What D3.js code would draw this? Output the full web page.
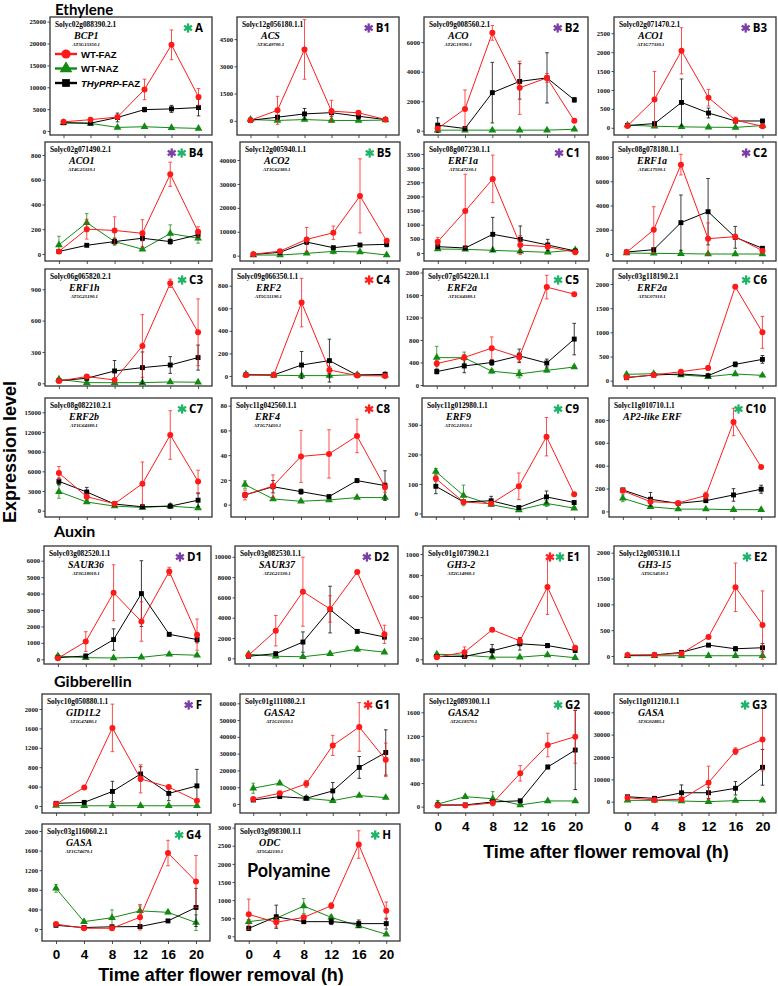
<!DOCTYPE html>
<html><head><meta charset="utf-8">
<script src="https://cdn.jsdelivr.net/npm/d3@7"></script>
<style>body{margin:0;background:#fff} svg{display:block}</style>
</head><body>
<svg id="chart" width="778" height="986"></svg>
<script>
const times = [0, 4, 8, 12, 16, 20];
const seriesNames = ["WT-FAZ", "WT-NAZ", "THyPRP-FAZ"];
const panelIds = ["A","B1","B2","B3","B4","B5","C1","C2","C3","C4","C5","C6","C7","C8","C9","C10","D1","D2","E1","E2","F","G1","G2","G3","G4","H"];
const geneIds = ["Solyc02g088390.2.1","Solyc12g056180.1.1","Solyc09g008560.2.1","Solyc02g071470.2.1","Solyc02g071490.2.1","Solyc12g005940.1.1","Solyc08g007230.1.1","Solyc08g078180.1.1","Solyc06g065820.2.1","Solyc09g066350.1.1","Solyc07g054220.1.1","Solyc03g118190.2.1","Solyc08g082210.2.1","Solyc11g042560.1.1","Solyc11g012980.1.1","Solyc11g010710.1.1","Solyc03g082520.1.1","Solyc03g082530.1.1","Solyc01g107390.2.1","Solyc12g005310.1.1","Solyc10g050880.1.1","Solyc01g111080.2.1","Solyc12g089300.1.1","Solyc11g011210.1.1","Solyc03g116060.2.1","Solyc03g098300.1.1"];
const geneNames = ["BCP1","ACS","ACO","ACO1","ACO1","ACO2","ERF1a","ERF1a","ERF1h","ERF2","ERF2a","ERF2a","ERF2b","ERF4","ERF9","AP2-like ERF","SAUR36","SAUR37","GH3-2","GH3-15","GID1L2","GASA2","GASA2","GASA","GASA","ODC"];
const atCodes = ["AT5G15350.1","AT3G49700.1","AT2G19590.1","AT1G77330.1","AT4G25310.1","AT1G62380.1","AT5G47230.1","AT4G17500.1","AT5G25190.1","AT5G51190.1","AT1G64380.1","AT5G07310.1","AT1G64380.1","AT1G71450.1","AT1G21910.1","","AT3G18010.1","AT2G21530.1","AT2G14960.1","AT5G54510.1","AT1G47480.1","AT1G10150.1","AT2G18570.1","AT3G02885.1","AT1G74670.1","AT5G42130.1"];
// significance stars: r = red, g = green, p = purple
const starKinds = ["g","p","p","p","pg","g","p","p","g","r","g","g","g","r","g","g","p","p","rg","g","p","r","g","g","g","g"];
const sectionTitles = ["Ethylene","Auxin","Gibberellin","Polyamine"];

const wtFAZ = [
 [2100,2600,3200,9500,19700,7800],[30,580,3930,530,440,70],[150,1480,6630,2910,3580,670],[50,750,2035,795,200,40],
 [20,200,190,167,644,180],[600,1900,6800,9600,25000,6200],[400,1485,2620,283,224,24],[140,2000,7370,1265,1430,275],
 [22,64,32,357,957,488],[9,9,650,53,3,0],[382,490,655,495,1740,1615],[70,117,186,262,1945,1000],
 [5745,2140,1070,4120,11540,4470],[7.8,15,39,41,55.5,14],[118,39,33,92,260,65],[180,85,74,138,782,388],
 [60,1080,4050,2300,5350,1500],[300,2720,6560,4860,8500,2360],[20,67,280,175,686,110],[20,20,50,370,1330,600],
 [40,380,1610,560,390,110],[3000,6400,12000,34900,45900,26300],[20,20,63,565,1046,1187],[1800,760,1070,8500,22600,27800],
 [100,15,15,240,1550,970],[606,385,523,844,2535,707]];
const wtFAZErr = [
 [300,300,300,2350,3400,1900],[30,770,1640,600,100,60],[100,1280,500,1800,300,100],[20,740,610,220,80,20],
 [10,80,110,110,98,40],[300,500,5000,2800,15500,700],[150,1300,840,330,80,20],[50,1900,850,1300,200,80],
 [10,20,15,300,40,320],[5,5,215,30,3,3],[50,50,200,80,210,30],[20,20,30,50,20,330],
 [1000,400,200,3300,3700,1700],[4,9,21,19.5,13.5,4],[10,5,5,45,65,5],[15,10,5,30,120,10],
 [100,600,1700,1200,250,950],[200,1500,3400,1300,150,900],[10,50,10,30,260,15],[10,10,10,30,470,660],
 [20,30,490,290,30,20],[1000,800,2000,6000,14500,10000],[10,10,20,130,200,450],[500,300,500,7400,1500,14000],
 [30,10,10,260,260,530],[420,130,60,80,380,240]];
const wtNAZ = [
 [1900,1740,830,980,760,600],[70,20,70,20,20,40],[40,40,40,40,40,100],[70,40,25,15,10,60],
 [73,253,100,38,165,127],[280,280,975,1800,1530,280],[140,130,94,60,24,106],[80,55,30,0,0,0],
 [38,6,6,6,13,10],[15,6,3,3,12,6],[487,485,245,197,260,320],[131,145,117,83,138,110],
 [2900,1320,700,500,700,400],[16.2,4.6,2.7,3.8,5.7,5.7],[142,61,30,12,34,18],[115,40,20,20,15,15],
 [200,100,80,120,300,250],[400,200,150,450,900,600],[48,38,20,20,40,15],[5,5,5,5,5,5],
 [10,5,5,5,5,5],[9400,12400,3400,2000,5000,3800],[45,170,135,30,97,97],[600,600,300,0,500,600],
 [830,150,230,370,340,130],[404,500,835,523,285,55]];
const wtNAZErr = [
 [200,200,200,200,100,100],[20,10,10,10,10,10],[10,10,10,10,10,20],[20,10,10,5,5,10],
 [70,73,30,10,70,40],[200,200,300,1000,300,100],[30,20,20,10,10,20],[20,20,10,5,5,5],
 [10,3,3,3,3,3],[5,3,15,20,3,3],[200,100,30,70,30,20],[20,20,15,15,15,10],
 [1000,200,100,100,100,100],[3,1,0.5,0.5,0.8,1],[10,35,5,3,10,3],[30,10,5,5,5,5],
 [100,30,30,30,50,50],[200,50,50,50,200,100],[10,10,5,5,10,5],[5,5,5,5,5,5],
 [5,5,5,5,5,5],[3000,500,500,500,500,500],[60,20,120,10,15,15],[300,300,300,300,300,300],
 [80,30,160,100,30,160],[60,60,210,60,40,20]];
const hyFAZ = [
 [1890,1800,3100,4900,5060,5360],[30,200,380,450,250,70],[380,150,2580,3340,3580,2090],[60,110,670,390,180,180],
 [20,70,100,127,100,155],[560,1390,5700,3340,4460,4740],[224,177,660,484,283,70],[165,357,2585,3490,1375,470],
 [25,48,118,150,175,246],[9,9,97,136,6,15],[238,338,400,518,390,816],[62,117,138,103,338,441],
 [4475,2850,1015,600,700,1600],[7.8,14.5,10.5,6.5,19.4,15.4],[92,39,43,20,56,37],[188,106,70,94,144,194],
 [100,200,1200,4000,1520,1200],[200,460,1600,4800,2650,2100],[27,27,80,147,130,85],[10,20,70,210,140,160],
 [55,75,300,660,260,415],[2400,4400,3400,7800,21800,30700],[30,30,80,100,673,960],[2200,1500,4000,4000,6000,15400],
 [75,30,45,50,165,440],[220,540,404,404,350,350]];
const hyFAZErr = [
 [300,300,1000,500,800,1900],[20,60,300,200,150,30],[500,50,2050,1200,1700,150],[20,30,620,130,50,30],
 [10,10,20,20,20,20],[200,300,1000,600,600,1000],[50,50,600,470,200,20],[50,80,2280,2740,900,80],
 [10,10,100,150,80,120],[3,3,120,190,3,5],[40,120,50,120,70,280],[15,20,20,15,50,80],
 [500,700,200,200,300,1000],[2,5,2,1,1.5,12],[25,5,15,5,20,5],[10,60,5,10,55,35],
 [50,100,650,2000,100,200],[100,100,1000,2300,150,200],[5,10,60,60,20,20],[5,5,20,20,40,80],
 [20,20,210,150,150,340],[500,800,600,5000,6500,13500],[10,10,20,20,30,670],[500,500,3500,2500,3000,8000],
 [10,10,10,10,20,390],[60,320,50,80,100,150]];
// y axis tick labels (max and step per panel)
const yTickMax = [25000,4500,6000,2500,800,40000,3500,8000,900,800,2000,2000,15000,80,300,800,6000,10000,1000,2000,2000,60000,1600,40000,2000,3000];
const yTickStep = [5000,1500,2000,500,200,10000,500,2000,300,200,400,500,3000,20,100,200,1000,2000,200,500,400,10000,400,10000,400,500];
const yDomains = [[-906,26060],[-781,5718],[-289,7703],[-191,2929],[-57,905],[-2215,47530],[-283,3924],[-577,9237],
 [-26,1094],[-89,948],[-18,2062],[-110,2311],[-960,17180],[-10,86.2],[-12,391],[-49,992],
 [-286,6896],[-562,11064],[-45,1076],[-155,2130],[-144,2309],[-5363,65540],[-107,1910],[-5056,48188],[-245,2143],[-130,3102]];

// ---- layout ----
const rowTop = [17,142,269,398,546,694,824];
const rowBottom = [135,261,386,517,664,813,941];
const panelRow = [0,0,0,0,1,1,1,1,2,2,2,2,3,3,3,3,4,4,4,4,5,5,5,5,6,6];
const boxLeft = [50,237,424,614,45,240,424,613,45,232,423,613,45,231,422,609,44,235,423,614,42,240,424,614,42,235];
const boxRight = [212,399,588,776,212,400,589,776,212,399,588,776,212,399,588,775,211,398,589,776,211,399,589,776,210,400];
const xLabelPanels = ["G2","G3","G4","H"];

const RED = "#ff1a1a", GREEN = "#138a13", BLACK = "#000";
const STAR = {r:"#ff2020", g:"#1fb46a", p:"#7a3ea6"};
const serif = "'Liberation Serif','Times New Roman',serif";
const sans = "'Liberation Sans',Arial,sans-serif";
const titleFont = "Lato,'Open Sans',sans-serif";

const svg = d3.select("#chart");

function drawAsterisk(g, cx, cy, color) {
  const r = 4.6;
  [90, 30, 150].forEach(a => {
    const rad = a * Math.PI / 180;
    g.append("line")
      .attr("x1", cx - r * Math.cos(rad)).attr("y1", cy - r * Math.sin(rad))
      .attr("x2", cx + r * Math.cos(rad)).attr("y2", cy + r * Math.sin(rad))
      .attr("stroke", color).attr("stroke-width", 2.3).attr("stroke-linecap", "butt");
  });
}

const triangle = d3.symbol().type(d3.symbolTriangle).size(26);
const square = d3.symbol().type(d3.symbolSquare).size(24);

panelIds.forEach((pid, i) => {
  const row = panelRow[i];
  const L = boxLeft[i], R = boxRight[i], T = rowTop[row], B = rowBottom[row];
  const g = svg.append("g");
  const x = d3.scaleLinear().domain([-2, 22]).range([L, R]);
  const y = d3.scaleLinear().domain(yDomains[i]).range([B, T]);

  g.append("clipPath").attr("id", "clip" + i)
    .append("rect").attr("x", L).attr("y", T).attr("width", R - L).attr("height", B - T);

  // y axis
  const yAxis = d3.axisLeft(y)
    .tickValues(d3.range(0, yTickMax[i] + 1e-9, yTickStep[i]))
    .tickSize(2.5).tickPadding(1.5).tickFormat(d3.format("d"));
  const ya = g.append("g").attr("transform", `translate(${L},0)`).call(yAxis);
  ya.select(".domain").remove();
  ya.selectAll("line").attr("stroke", "#222").attr("stroke-width", 0.8);
  ya.selectAll("text").attr("font-family", serif).attr("font-weight", "bold")
    .attr("font-size", 6.6).attr("fill", "#111");

  // x axis ticks
  const showX = xLabelPanels.includes(pid);
  const xAxis = d3.axisBottom(x).tickValues(times).tickSize(3)
    .tickFormat(showX ? d3.format("d") : () => "").tickPadding(5);
  const xa = g.append("g").attr("transform", `translate(0,${B})`).call(xAxis);
  xa.select(".domain").remove();
  xa.selectAll("line").attr("stroke", "#222").attr("stroke-width", 0.8);
  xa.selectAll("text").attr("font-family", sans).attr("font-weight", "bold")
    .attr("font-size", 13.5).attr("fill", "#000");

  // box
  g.append("rect").attr("x", L).attr("y", T).attr("width", R - L).attr("height", B - T)
    .attr("fill", "none").attr("stroke", "#333").attr("stroke-width", 1.3);

  // series
  const plot = g.append("g").attr("clip-path", `url(#clip${i})`);
  const series = [
    {vals: wtNAZ[i], errs: wtNAZErr[i], color: GREEN, shape: "tri"},
    {vals: hyFAZ[i], errs: hyFAZErr[i], color: BLACK, shape: "sq"},
    {vals: wtFAZ[i], errs: wtFAZErr[i], color: RED, shape: "circ"}
  ];
  series.forEach(s => {
    const pts = times.map((t, k) => ({t, v: s.vals[k], e: s.errs[k]}));
    const eg = plot.append("g").attr("stroke", s.color).attr("stroke-width", 0.9).attr("opacity", 0.85);
    pts.forEach(p => {
      const y1 = y(p.v - p.e), y2 = y(p.v + p.e), xc = x(p.t);
      eg.append("line").attr("x1", xc).attr("x2", xc).attr("y1", y1).attr("y2", y2);
      eg.append("line").attr("x1", xc - 1.8).attr("x2", xc + 1.8).attr("y1", y1).attr("y2", y1);
      eg.append("line").attr("x1", xc - 1.8).attr("x2", xc + 1.8).attr("y1", y2).attr("y2", y2);
    });
    plot.append("path").datum(pts)
      .attr("d", d3.line().x(p => x(p.t)).y(p => y(p.v)))
      .attr("fill", "none").attr("stroke", s.color).attr("stroke-width", 1);
    pts.forEach(p => {
      if (s.shape === "circ") {
        plot.append("circle").attr("cx", x(p.t)).attr("cy", y(p.v)).attr("r", 3).attr("fill", s.color);
      } else {
        plot.append("path").attr("d", s.shape === "tri" ? triangle() : square())
          .attr("transform", `translate(${x(p.t)},${y(p.v)})`).attr("fill", s.color);
      }
    });
  });

  // gene labels
  g.append("text").attr("x", L + 5).attr("y", T + 10).text(geneIds[i])
    .attr("font-family", serif).attr("font-weight", "bold").attr("font-size", 7.4).attr("fill", "#000");
  const gx = pid === "C10" ? L + 14 : L + 24;
  const gn = g.append("text").attr("x", gx).attr("y", T + 22).text(geneNames[i])
    .attr("font-family", serif).attr("font-weight", "bold").attr("font-style", "italic")
    .attr("font-size", 10).attr("fill", "#000");
  if (atCodes[i]) {
    const w = gn.node().getComputedTextLength();
    g.append("text").attr("x", gx + w / 2).attr("y", T + 29).attr("text-anchor", "middle").text(atCodes[i])
      .attr("font-family", serif).attr("font-weight", "bold").attr("font-style", "italic")
      .attr("font-size", 4.8).attr("fill", "#000");
  }

  // panel letter and stars
  const lt = g.append("text").attr("x", R - 9).attr("y", T + 15).attr("text-anchor", "end").text(pid)
    .attr("font-family", "'Open Sans',sans-serif").attr("font-weight", "bold").attr("font-size", 11.5).attr("fill", "#000");
  const lw = lt.node().getComputedTextLength();
  const kinds = starKinds[i].split("");
  kinds.forEach((k, j) => {
    const cx = R - 9 - lw - 7 - (kinds.length - 1 - j) * 10;
    drawAsterisk(g, cx, T + 11, STAR[k]);
  });

  // legend in first panel
  if (i === 0) {
    const lg = g.append("g");
    const legendItems = [
      {name: seriesNames[0], color: RED, shape: "circ"},
      {name: seriesNames[1], color: GREEN, shape: "tri"},
      {name: seriesNames[2], color: BLACK, shape: "sq"}
    ];
    legendItems.forEach((it, k) => {
      const ly = T + 37 + k * 14.5;
      lg.append("line").attr("x1", L + 5).attr("x2", L + 27).attr("y1", ly).attr("y2", ly)
        .attr("stroke", it.color).attr("stroke-width", 2.4);
      if (it.shape === "circ") lg.append("circle").attr("cx", L + 16).attr("cy", ly).attr("r", 4.6).attr("fill", it.color);
      else lg.append("path").attr("d", d3.symbol().type(it.shape === "tri" ? d3.symbolTriangle : d3.symbolSquare).size(it.shape === "tri" ? 70 : 60)())
        .attr("transform", `translate(${L + 16},${ly})`).attr("fill", it.color);
      const tx = lg.append("text").attr("x", L + 31).attr("y", ly + 3.5)
        .attr("font-family", sans).attr("font-weight", "bold").attr("font-size", 9.6).attr("fill", "#000");
      if (it.name === "THyPRP-FAZ") {
        tx.append("tspan").attr("font-style", "italic").text("THyPRP");
        tx.append("tspan").text("-FAZ");
      } else tx.text(it.name);
    });
  }
});

// section titles
const titlePos = [[55, 15, 15], [54, 537, 16], [54, 687, 16], [247, 877, 18]];
sectionTitles.forEach((t, k) => {
  svg.append("text").attr("x", titlePos[k][0]).attr("y", titlePos[k][1]).text(t)
    .attr("font-family", titleFont).attr("font-weight", "bold").attr("font-size", titlePos[k][2]).attr("fill", "#000");
});

// axis titles
svg.append("text").attr("transform", "translate(16,452) rotate(-90)").attr("text-anchor", "middle")
  .text("Expression level").attr("font-family", sans).attr("font-weight", "bold").attr("font-size", 18);
[[221, 981], [606, 858]].forEach(p => {
  svg.append("text").attr("x", p[0]).attr("y", p[1]).attr("text-anchor", "middle")
    .text("Time after flower removal (h)").attr("font-family", sans).attr("font-weight", "bold").attr("font-size", 18);
});
</script>
</body></html>
